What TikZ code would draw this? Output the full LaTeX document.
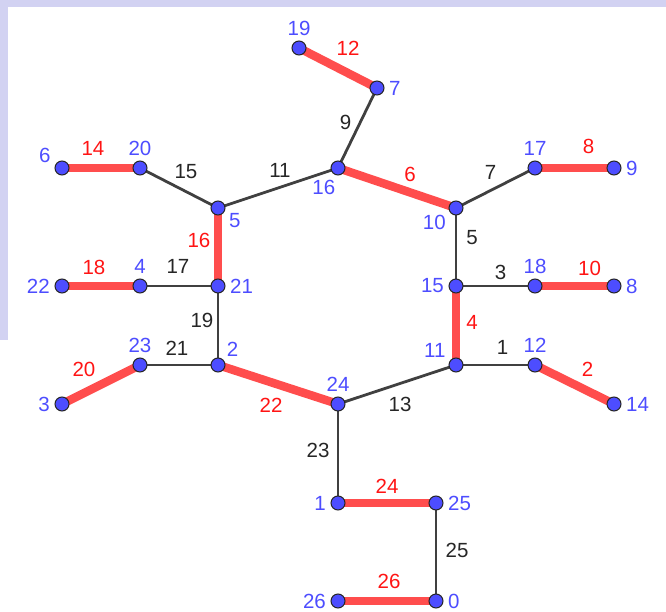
\documentclass[tikz,border=0pt]{standalone}
\usepackage{fontspec}
\setmainfont{Liberation Sans}
\usepackage{xcolor}
\usepackage{tikz}
\usetikzlibrary{positioning,backgrounds}
\definecolor{ptblue}{RGB}{77,77,255}
\definecolor{edgered}{RGB}{255,77,77}
\definecolor{labred}{RGB}{255,20,20}
\definecolor{edgegray}{RGB}{64,64,64}
\definecolor{bglav}{RGB}{210,210,242}
\tikzset{
  vertex/.style={
    circle,
    draw=black!85,
    line width=1pt,
    fill=ptblue,
    inner sep=0pt,
    minimum size=14pt
  },
  vlabel/.style={text=ptblue, inner sep=1pt},
  elabel/.style={inner sep=0pt},
  redge/.style={draw=edgered, line width=8.5pt},
  bedge/.style={draw=edgegray, line width=2.8pt},
  redlab/.style={elabel, text=labred},
  graylab/.style={elabel, text=black!85}
}

\begin{document}
\begin{tikzpicture}[
  x=1pt, y=-1pt,
  label distance=3.5pt,
  every node/.style={font=\fontsize{20.5}{24}\selectfont}
]
\useasboundingbox (0,0) rectangle (666,612);
% faint background of the screenshot
\fill[bglav] (0,0) rectangle (666,7);
\fill[bglav] (0,0) rectangle (8,340);

% vertices
\node[vertex, label={[vlabel]above:19}] (v19) at (299,48) {};
\node[vertex, label={[vlabel]right:7}] (v7) at (377,88) {};
\node[vertex, label={[vlabel]262:16}] (v16) at (338,168) {};
\node[vertex, label={[vlabel]above:20}] (v20) at (140,168) {};
\node[vertex, label={[vlabel]160:6}] (v6) at (62,168) {};
\node[vertex, label={[vlabel]above:17}] (v17) at (535,168) {};
\node[vertex, label={[vlabel]right:9}] (v9) at (614,168) {};
\node[vertex, label={[vlabel]-25:5}] (v5) at (218,208) {};
\node[vertex, label={[vlabel]215:10}] (v10) at (456,208) {};
\node[vertex, label={[vlabel]right:21}] (v21) at (218,286) {};
\node[vertex, label={[vlabel]above:4}] (v4) at (140,286) {};
\node[vertex, label={[vlabel]left:22}] (v22) at (62,286) {};
\node[vertex, label={[vlabel]left:15}] (v15) at (456,286) {};
\node[vertex, label={[vlabel]above:18}] (v18) at (535,286) {};
\node[vertex, label={[vlabel]right:8}] (v8) at (614,286) {};
\node[vertex, label={[vlabel]45:2}] (v2) at (218,365) {};
\node[vertex, label={[vlabel]above:23}] (v23) at (140,365) {};
\node[vertex, label={[vlabel]left:3}] (v3) at (62,404) {};
\node[vertex, label={[vlabel]above:24}] (v24) at (338,404) {};
\node[vertex, label={[vlabel]148:11}] (v11) at (456,365) {};
\node[vertex, label={[vlabel]above:12}] (v12) at (535,365) {};
\node[vertex, label={[vlabel]right:14}] (v14) at (614,404) {};
\node[vertex, label={[vlabel]left:1}] (v1) at (338,503) {};
\node[vertex, label={[vlabel]right:25}] (v25) at (436,503) {};
\node[vertex, label={[vlabel]left:26}] (v26) at (338,601) {};
\node[vertex, label={[vlabel]right:0}] (v0) at (436,601) {};

% edges, behind the vertices
\begin{pgfonlayer}{background}
\path[redge] (v19.center) -- node[redlab, shift={(10,-20)}] {12} (v7.center);
\path[bedge] (v7.center) -- node[graylab, shift={(-12,-6)}] {9} (v16.center);
\path[redge] (v6.center) -- node[redlab, shift={(-8,-20)}] {14} (v20.center);
\path[bedge] (v20.center) -- node[graylab, shift={(7,-16)}] {15} (v5.center);
\path[bedge] (v5.center) -- node[graylab, shift={(2,-18)}] {11} (v16.center);
\path[redge] (v16.center) -- node[redlab, shift={(13,-14)}] {6} (v10.center);
\path[bedge] (v10.center) -- node[graylab, shift={(-5,-16)}] {7} (v17.center);
\path[redge] (v17.center) -- node[redlab, shift={(14,-22)}] {8} (v9.center);
\path[redge] (v5.center) -- node[redlab, shift={(-19,-7)}] {16} (v21.center);
\path[redge] (v22.center) -- node[redlab, shift={(-7,-19)}] {18} (v4.center);
\path[bedge] (v4.center) -- node[graylab, shift={(-1,-20)}] {17} (v21.center);
\path[bedge] (v10.center) -- node[graylab, shift={(16,-9)}] {5} (v15.center);
\path[bedge] (v15.center) -- node[graylab, shift={(5,-14)}] {3} (v18.center);
\path[redge] (v18.center) -- node[redlab, shift={(15,-18)}] {10} (v8.center);
\path[bedge] (v21.center) -- node[graylab, shift={(-16,-5)}] {19} (v2.center);
\path[redge] (v15.center) -- node[redlab, shift={(16,-3)}] {4} (v11.center);
\path[bedge] (v23.center) -- node[graylab, shift={(-2,-17)}] {21} (v2.center);
\path[bedge] (v11.center) -- node[graylab, shift={(7,-18)}] {1} (v12.center);
\path[redge] (v3.center) -- node[redlab, shift={(-17,-15)}] {20} (v23.center);
\path[redge] (v2.center) -- node[redlab, shift={(-7,21)}] {22} (v24.center);
\path[bedge] (v24.center) -- node[graylab, shift={(3,20)}] {13} (v11.center);
\path[redge] (v12.center) -- node[redlab, shift={(13,-15)}] {2} (v14.center);
\path[bedge] (v24.center) -- node[graylab, shift={(-20,-3)}] {23} (v1.center);
\path[redge] (v1.center) -- node[redlab, shift={(0,-17)}] {24} (v25.center);
\path[bedge] (v25.center) -- node[graylab, shift={(21,-2)}] {25} (v0.center);
\path[redge] (v26.center) -- node[redlab, shift={(2,-20)}] {26} (v0.center);
\end{pgfonlayer}
\end{tikzpicture}
\end{document}
